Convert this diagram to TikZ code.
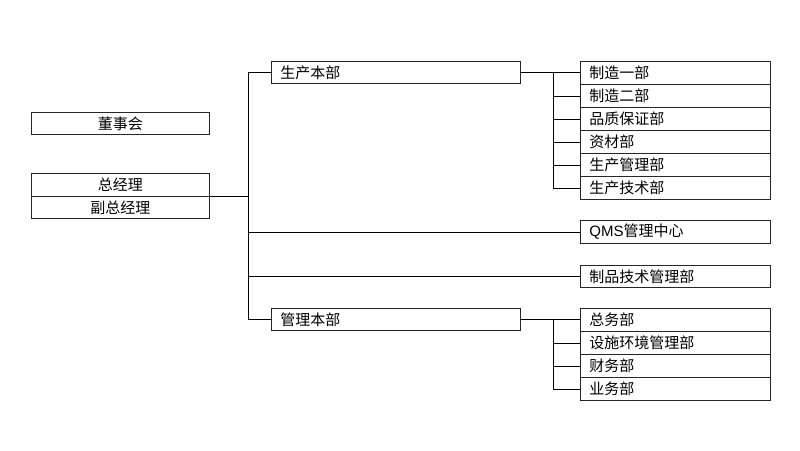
\documentclass[tikz,border=0pt]{standalone}
\usepackage{fontspec}
\setmainfont{Noto Sans CJK SC}
\newfontfamily\latinsans{Liberation Sans}
\begin{document}
\begin{tikzpicture}[x=1pt,y=-1pt,
  every node/.style={font=\fontsize{15}{16}\selectfont},
  box/.style={draw=black!85,line width=0.9pt,rectangle,anchor=north west,inner sep=0pt},
  cbox/.style={box,minimum width=178pt,minimum height=#1pt,align=center},
  mbox/.style={box,minimum width=249pt,minimum height=22pt,text width=231pt,align=left},
  dbox/.style={box,minimum width=190pt,minimum height=#1pt,text width=172pt,align=left},
  conn/.style={draw=black,line width=0.9pt}]
\useasboundingbox (0,0) rectangle (800,450);
\fill[white] (0,0) rectangle (800,450);
\node[cbox=22] (dsh) at (31,112) {董事会};
\node[cbox=23] (zjl) at (31,173) {总经理};
\node[cbox=22] (fzjl) at (31,196) {副总经理};
\node[mbox] (sc) at (271,61) {生产本部};
\node[mbox] (gl) at (271,308) {管理本部};
\node[dbox=23] (s1) at (580,61) {制造一部};
\node[dbox=23] (s2) at (580,84) {制造二部};
\node[dbox=23] (s3) at (580,107) {品质保证部};
\node[dbox=23] (s4) at (580,130) {资材部};
\node[dbox=23] (s5) at (580,153) {生产管理部};
\node[dbox=23] (s6) at (580,176) {生产技术部};
\node[dbox=23] (qms) at (580,220) {{\latinsans QMS}管理中心};
\node[dbox=22] (zp) at (580,265) {制品技术管理部};
\node[dbox=23] (g1) at (580,308) {总务部};
\node[dbox=23] (g2) at (580,331) {设施环境管理部};
\node[dbox=23] (g3) at (580,354) {财务部};
\node[dbox=23] (g4) at (580,377) {业务部};
\coordinate (tx) at (248,0);
\coordinate (bx) at (553,0);
\draw[conn] (fzjl.north east) -- (fzjl.north east -| tx);
\draw[conn] (sc.west) -| (tx |- gl.west) -- (gl.west);
\draw[conn] (qms.west) -- (qms.west -| tx);
\draw[conn] (zp.west) -- (zp.west -| tx);
\draw[conn] (sc.east) -- (sc.east -| s1.west);
\draw[conn] (s1.west -| bx) |- (s6.west);
\foreach \n in {s2,s3,s4,s5} \draw[conn] (\n.west) -- (\n.west -| bx);
\draw[conn] (gl.east) -- (gl.east -| g1.west);
\draw[conn] (g1.west -| bx) |- (g4.west);
\foreach \n in {g2,g3} \draw[conn] (\n.west) -- (\n.west -| bx);
\end{tikzpicture}
\end{document}
